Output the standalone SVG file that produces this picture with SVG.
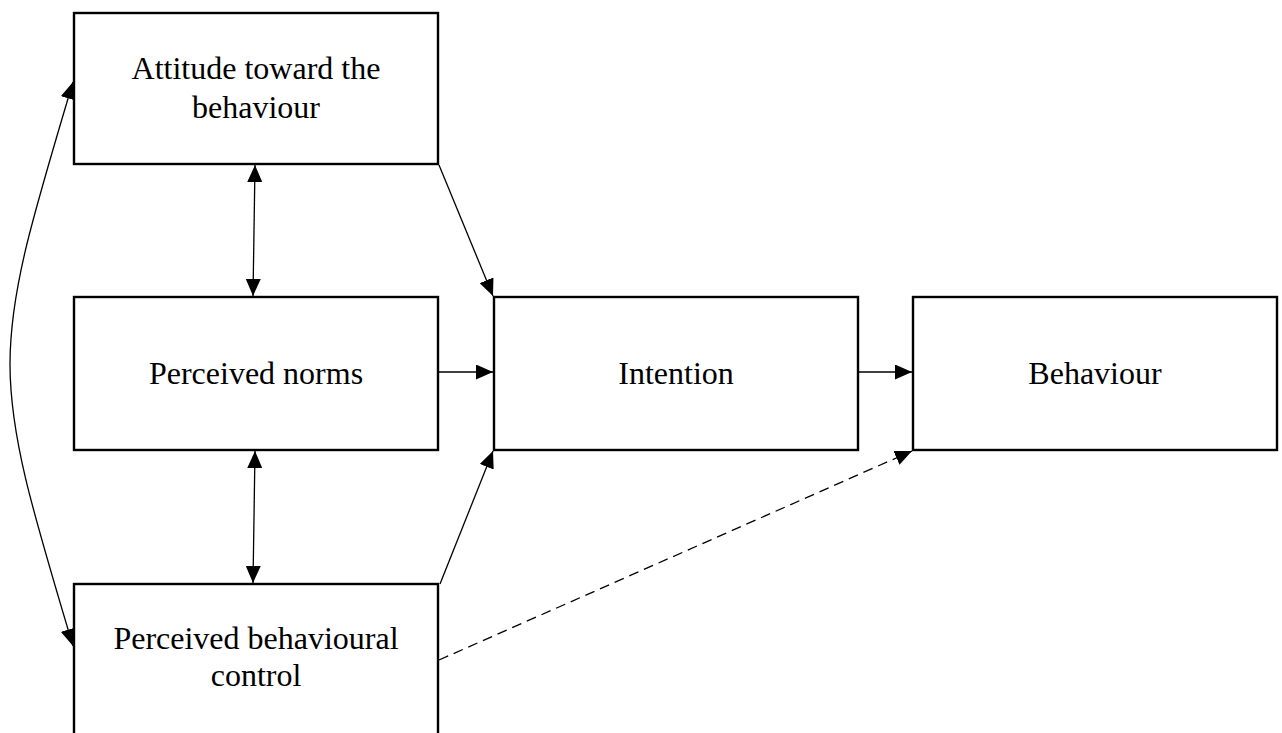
<svg xmlns="http://www.w3.org/2000/svg" width="1282" height="733" viewBox="0 0 1282 733">
<style>
.box{fill:#fff;stroke:#000;stroke-width:2.4}
.lbl{font-family:"Liberation Serif","Times New Roman",serif;font-size:32px;fill:#000;text-anchor:middle}
.c{fill:none;stroke:#000;stroke-width:1.3}
.d{stroke-dasharray:10,6}
</style>
<defs>
<marker id="ah" markerUnits="userSpaceOnUse" markerWidth="17" markerHeight="15" viewBox="0 0 17 15" refX="17" refY="7.5" orient="auto-start-reverse">
<path d="M0,0 L17,7.5 L0,15 Z" fill="#000"/>
</marker>
</defs>
<g id="connectors">
<path class="c" d="M73,82 C-11,362 -11,366 73,646" marker-start="url(#ah)" marker-end="url(#ah)"/>
<line class="c" x1="255" y1="165" x2="253" y2="296" marker-start="url(#ah)" marker-end="url(#ah)"/>
<line class="c" x1="255" y1="451" x2="253" y2="583" marker-start="url(#ah)" marker-end="url(#ah)"/>
<line class="c" x1="439" y1="165" x2="493" y2="296" marker-end="url(#ah)"/>
<line class="c" x1="439" y1="372" x2="493" y2="372" marker-end="url(#ah)"/>
<line class="c" x1="859" y1="372" x2="912" y2="372" marker-end="url(#ah)"/>
<line class="c" x1="440" y1="584" x2="493" y2="451" marker-end="url(#ah)"/>
<line class="c d" x1="439" y1="660" x2="912" y2="451" marker-end="url(#ah)"/>
</g>
<g id="attitude">
<rect class="box" x="74" y="13" width="364" height="151"/>
<text class="lbl" x="256" y="79">Attitude toward the</text>
<text class="lbl" x="256" y="118">behaviour</text>
</g>
<g id="norms">
<rect class="box" x="74" y="297" width="364" height="153"/>
<text class="lbl" x="256" y="384">Perceived norms</text>
</g>
<g id="pbc">
<rect class="box" x="74" y="584" width="364" height="170"/>
<text class="lbl" x="256" y="649">Perceived behavioural</text>
<text class="lbl" x="256" y="686">control</text>
</g>
<g id="intention">
<rect class="box" x="494" y="297" width="364" height="153"/>
<text class="lbl" x="676" y="384">Intention</text>
</g>
<g id="behaviour">
<rect class="box" x="913" y="297" width="364" height="153"/>
<text class="lbl" x="1095" y="384">Behaviour</text>
</g>
</svg>
